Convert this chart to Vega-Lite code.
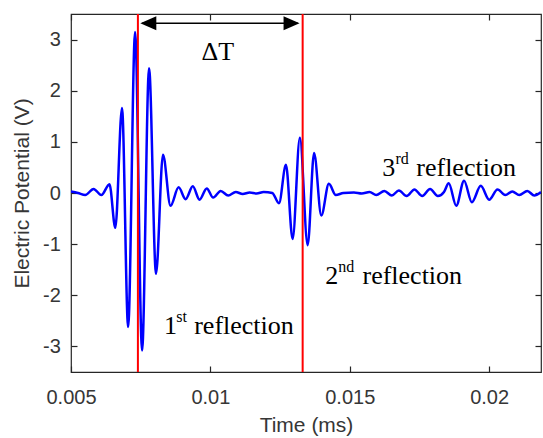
{
  "$schema": "https://vega.github.io/schema/vega-lite/v6.json",
  "width": 470,
  "height": 358,
  "autosize": {"type": "none"},
  "padding": {"left": 71, "top": 14, "right": 2, "bottom": 66},
  "background": "white",
  "config": {
    "view": {"stroke": "#262626", "strokeWidth": 1.2},
    "axis": {"grid": false, "domain": false, "tickColor": "#262626", "tickWidth": 1.2, "tickSize": -6,
             "labelFont": "Liberation Sans", "labelFontSize": 20, "labelColor": "#363636",
             "titleFont": "Liberation Sans", "titleFontSize": 21, "titleFontWeight": "normal", "titleColor": "#363636"}
  },
  "datasets": {
    "wave": [
      {"t": 0.00500, "v": 0.03}, {"t": 0.00525, "v": 0.00}, {"t": 0.00551, "v": -0.04}, {"t": 0.00581, "v": 0.08},
      {"t": 0.00609, "v": -0.04}, {"t": 0.00638, "v": 0.17}, {"t": 0.00659, "v": -0.68}, {"t": 0.00683, "v": 1.66},
      {"t": 0.00705, "v": -2.62}, {"t": 0.00730, "v": 3.15}, {"t": 0.00755, "v": -3.08}, {"t": 0.00780, "v": 2.44},
      {"t": 0.00805, "v": -1.58}, {"t": 0.00830, "v": 0.75}, {"t": 0.00857, "v": -0.25}, {"t": 0.00886, "v": 0.11},
      {"t": 0.00911, "v": -0.12}, {"t": 0.00937, "v": 0.13}, {"t": 0.00961, "v": -0.13}, {"t": 0.00987, "v": 0.09},
      {"t": 0.01010, "v": -0.09}, {"t": 0.01037, "v": 0.04}, {"t": 0.01064, "v": -0.05}, {"t": 0.01091, "v": 0.02},
      {"t": 0.01116, "v": -0.02}, {"t": 0.01141, "v": 0.01}, {"t": 0.01166, "v": -0.01}, {"t": 0.01191, "v": 0.02},
      {"t": 0.01222, "v": 0.00}, {"t": 0.01246, "v": -0.20}, {"t": 0.01271, "v": 0.55}, {"t": 0.01295, "v": -0.90},
      {"t": 0.01321, "v": 1.08}, {"t": 0.01349, "v": -1.02}, {"t": 0.01372, "v": 0.78}, {"t": 0.01398, "v": -0.44},
      {"t": 0.01425, "v": 0.18}, {"t": 0.01450, "v": -0.04}, {"t": 0.01477, "v": 0.00}, {"t": 0.01515, "v": 0.01},
      {"t": 0.01543, "v": -0.01}, {"t": 0.01571, "v": 0.02}, {"t": 0.01595, "v": -0.04}, {"t": 0.01624, "v": 0.04},
      {"t": 0.01651, "v": -0.05}, {"t": 0.01676, "v": 0.05}, {"t": 0.01704, "v": -0.06}, {"t": 0.01732, "v": 0.07},
      {"t": 0.01760, "v": -0.06}, {"t": 0.01788, "v": 0.08}, {"t": 0.01816, "v": -0.06}, {"t": 0.01838, "v": 0.02},
      {"t": 0.01855, "v": 0.19}, {"t": 0.01882, "v": -0.25}, {"t": 0.01910, "v": 0.24}, {"t": 0.01938, "v": -0.18},
      {"t": 0.01970, "v": 0.14}, {"t": 0.02000, "v": -0.13}, {"t": 0.02030, "v": 0.07}, {"t": 0.02058, "v": -0.04},
      {"t": 0.02083, "v": 0.03}, {"t": 0.02108, "v": -0.04}, {"t": 0.02137, "v": 0.04}, {"t": 0.02162, "v": -0.05},
      {"t": 0.02186, "v": 0.02}
    ],
    "markers": [{"t": 0.00740}, {"t": 0.01331}],
    "arrow": [{"t1": 0.00755, "t2": 0.01314, "v": 3.318}],
    "heads": [{"t": 0.007773, "v": 3.318, "dir": "left"}, {"t": 0.012912, "v": 3.318, "dir": "right"}],
    "mainText": [
      {"t": 0.008336, "v": -2.752, "text": "1"}, {"t": 0.009419, "v": -2.752, "text": "reflection"},
      {"t": 0.014124, "v": -1.771, "text": "2"}, {"t": 0.015456, "v": -1.771, "text": "reflection"},
      {"t": 0.016166, "v": 0.340, "text": "3"}, {"t": 0.017386, "v": 0.340, "text": "reflection"}
    ],
    "supText": [
      {"t": 0.008772, "v": -2.523, "text": "st"},
      {"t": 0.014585, "v": -1.543, "text": "nd"},
      {"t": 0.016639, "v": 0.569, "text": "rd"}
    ],
    "delta": [{"t": 0.010265, "v": 2.60, "text": "ΔT"}]
  },
  "layer": [
    {
      "data": {"name": "wave"},
      "mark": {"type": "line", "interpolate": "monotone", "color": "#0000ff", "strokeWidth": 2.5, "clip": true},
      "encoding": {
        "x": {"field": "t", "type": "quantitative",
              "scale": {"domain": [0.005, 0.02186], "nice": false, "zero": false},
              "axis": {"orient": "bottom", "values": [0.005, 0.01, 0.015, 0.02], "format": "~g",
                       "labelPadding": 21, "labelFlush": false, "title": "Time (ms)", "titlePadding": 7}},
        "y": {"field": "v", "type": "quantitative",
              "scale": {"domain": [-3.5, 3.5], "nice": false, "zero": false},
              "axis": {"orient": "left", "values": [-3, -2, -1, 0, 1, 2, 3], "labelExpr": "toString(datum.value)",
                       "labelPadding": 16.7, "labelFlush": false, "title": "Electric Potential (V)", "titlePadding": 10}}
      }
    },
    {
      "data": {"name": "markers"},
      "mark": {"type": "rule", "color": "#ff0000", "strokeWidth": 2},
      "encoding": {
        "x": {"field": "t", "type": "quantitative",
              "axis": {"orient": "top", "values": [0.005, 0.01, 0.015, 0.02], "labels": false, "title": null}}
      }
    },
    {
      "data": {"name": "arrow"},
      "mark": {"type": "rule", "color": "black", "strokeWidth": 1.5},
      "encoding": {
        "x": {"field": "t1", "type": "quantitative", "axis": null},
        "x2": {"field": "t2"},
        "y": {"field": "v", "type": "quantitative", "axis": null}
      }
    },
    {
      "data": {"name": "heads"},
      "mark": {"type": "point", "filled": true, "color": "black", "opacity": 1, "size": 256, "strokeWidth": 0},
      "encoding": {
        "x": {"field": "t", "type": "quantitative", "axis": null},
        "y": {"field": "v", "type": "quantitative",
              "axis": {"orient": "right", "values": [-3, -2, -1, 0, 1, 2, 3], "labels": false, "title": null}},
        "shape": {"field": "dir", "type": "nominal", "legend": null,
                  "scale": {"domain": ["left", "right"], "range": ["M-1,0L1,-0.875L1,0.875Z", "M1,0L-1,-0.875L-1,0.875Z"]}}
      }
    },
    {
      "data": {"name": "mainText"},
      "mark": {"type": "text", "font": "Liberation Serif", "fontSize": 26, "align": "left", "baseline": "alphabetic", "color": "black"},
      "encoding": {
        "x": {"field": "t", "type": "quantitative", "axis": null},
        "y": {"field": "v", "type": "quantitative", "axis": null},
        "text": {"field": "text"}
      }
    },
    {
      "data": {"name": "supText"},
      "mark": {"type": "text", "font": "Liberation Serif", "fontSize": 16, "align": "left", "baseline": "alphabetic", "color": "black"},
      "encoding": {
        "x": {"field": "t", "type": "quantitative", "axis": null},
        "y": {"field": "v", "type": "quantitative", "axis": null},
        "text": {"field": "text"}
      }
    },
    {
      "data": {"name": "delta"},
      "mark": {"type": "text", "font": "Liberation Serif", "fontSize": 26, "align": "center", "baseline": "alphabetic", "color": "black"},
      "encoding": {
        "x": {"field": "t", "type": "quantitative", "axis": null},
        "y": {"field": "v", "type": "quantitative", "axis": null},
        "text": {"field": "text"}
      }
    }
  ],
  "resolve": {"axis": {"x": "independent", "y": "independent"}}
}
